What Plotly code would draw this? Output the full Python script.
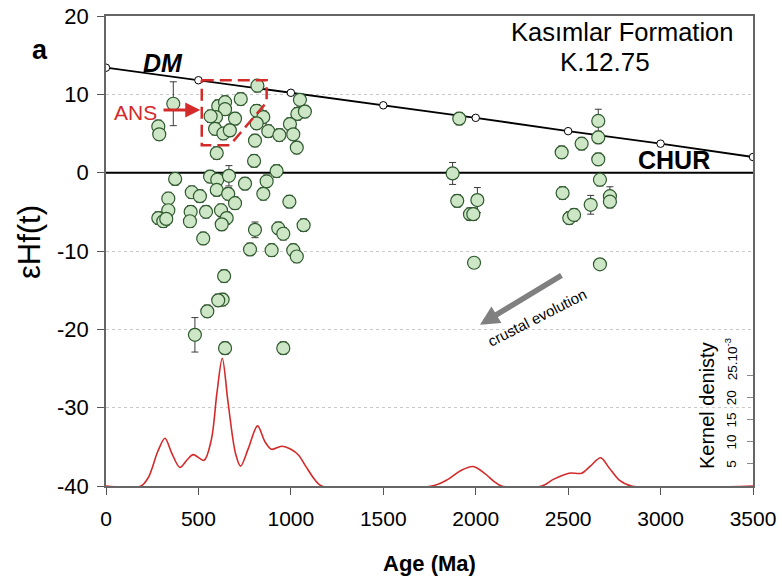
import plotly.graph_objects as go

# ---------------- data ----------------
ages = [364, 283, 288, 607, 644, 644, 729, 595, 698, 590, 635, 670, 566, 599,
        819, 815, 851, 815, 878, 938, 806, 801, 1049, 1035, 1076, 995, 1013, 1032, 923,
        374, 563, 602, 665, 599, 752, 869, 851, 992, 337, 464, 508, 661, 698,
        337, 283, 310, 326, 458, 454, 541, 622, 653, 626, 526, 806, 932, 959, 1069,
        779, 896, 1013, 1032, 639, 631, 607, 548, 481, 644, 959,
        1911, 1875, 1900, 2009, 1969, 1987, 1991,
        2663, 2663, 2573, 2465, 2663, 2672, 2470, 2622, 2726, 2726, 2506, 2532, 2672]
ehf = [8.8, 5.9, 4.9, 8.5, 9.0, 8.1, 9.4, 7.1, 6.9, 5.6, 5.0, 5.4, 7.2, 2.5,
       11.1, 7.9, 7.1, 6.3, 5.3, 4.8, 4.1, 1.5, 9.3, 7.5, 7.8, 6.2, 4.9, 3.2, 0.2,
       -0.8, -0.5, -0.9, -0.4, -2.2, -1.4, -1.1, -2.7, -3.7, -3.3, -2.5, -3.0, -2.7, -3.9,
       -4.8, -5.8, -6.2, -5.9, -5.0, -6.2, -5.0, -4.8, -5.8, -6.6, -8.4, -7.3, -7.1, -7.8, -6.7,
       -9.8, -9.9, -9.9, -10.7, -13.2, -16.2, -16.3, -17.7, -20.7, -22.4, -22.4,
       6.9, -0.1, -3.6, -3.5, -5.3, -5.3, -11.5,
       6.6, 4.5, 3.7, 2.6, 1.7, -0.9, -2.6, -4.1, -3.0, -3.7, -5.8, -5.4, -11.7]
ehf_err = [2.8, 0.8, 0.8, 0.8, 0.8, 0.8, 0.8, 0.8, 0.8, 0.8, 0.8, 0.8, 0.8, 0.8,
           0.8, 0.8, 0.8, 0.8, 0.8, 0.8, 0.8, 0.8, 0.8, 0.8, 0.8, 0.8, 0.8, 0.8, 0.8,
           0.8, 0.8, 0.8, 1.3, 0.8, 0.8, 0.8, 0.8, 0.8, 0.8, 0.8, 0.8, 0.8, 0.8,
           0.8, 0.8, 0.8, 0.8, 0.8, 0.8, 0.8, 0.8, 0.8, 0.8, 0.8, 1.0, 0.8, 0.8, 0.8,
           0.8, 0.8, 0.8, 0.8, 0.8, 0.8, 0.8, 0.8, 2.2, 0.8, 0.8,
           0.8, 1.4, 0.8, 1.6, 0.8, 0.8, 0.6,
           1.5, 0.8, 0.8, 0.8, 0.8, 0.8, 0.8, 1.2, 1.2, 0.8, 0.8, 0.8, 0.6]

dm_age = [0, 500, 1000, 1500, 2000, 2500, 3000, 3500]
dm_ehf = [13.4, 11.8, 10.2, 8.6, 7.0, 5.3, 3.7, 2.0]
chur_age = [0, 3500]
chur_ehf = [0, 0]

kde_age = [0, 189, 230, 280, 319, 355, 400, 440, 472, 530, 570, 600, 629, 660, 700, 728,
           770, 820, 860, 896, 950, 1000, 1041, 1080, 1130, 1167,
           1762, 1850, 1920, 1986, 2050, 2100, 2140,
           2357, 2420, 2505, 2573, 2620, 2676, 2720, 2780, 2843, 3500]
kde_val = [0, 0, 2.0, 7.8, 10.8, 7.5, 4.2, 6.0, 7.1, 5.8, 10.5, 21.0, 28.9, 19.0, 7.5, 4.5,
           8.5, 13.6, 10.0, 8.3, 9.0, 8.3, 7.0, 4.5, 1.4, 0,
           0, 1.5, 3.5, 4.4, 2.8, 1.0, 0,
           0, 1.5, 2.9, 2.9, 4.5, 6.4, 4.2, 1.2, 0, 0]

ans_age = [518, 869, 869, 670, 518, 518]
ans_ehf = [11.8, 11.8, 9.0, 3.5, 3.5, 11.8]

x_ticks = [0, 500, 1000, 1500, 2000, 2500, 3000, 3500]
y_ticks = [-40, -30, -20, -10, 0, 10, 20]
y_ticktext = ["-40", "-30", "-20", "-10", "0", "10", "20"]
kde_ticks = [5, 10, 15, 20, 25]
kde_ticktext = ["5", "10", "15", "20", "25.10<sup>-3</sup>"]

# ---------------- figure ----------------
SANS = "Liberation Sans, Arial, sans-serif"
RED = "#d42a2a"

fig = go.Figure()

fig.add_trace(go.Scatter(x=chur_age, y=chur_ehf, mode="lines",
                         line=dict(color="black", width=2), hoverinfo="skip"))
fig.add_trace(go.Scatter(x=dm_age, y=dm_ehf, mode="lines+markers",
                         line=dict(color="black", width=1.8),
                         marker=dict(size=7.5, color="white", line=dict(color="black", width=1)),
                         hoverinfo="skip"))
fig.add_trace(go.Scatter(x=ages, y=ehf, mode="markers",
                         error_y=dict(type="data", array=ehf_err, color="#3a3a3a",
                                      thickness=1, width=3.5),
                         marker=dict(size=13, color="#cde6c6",
                                     line=dict(color="#2e5a2e", width=1.2))))
fig.add_trace(go.Scatter(x=ans_age, y=ans_ehf, mode="lines",
                         line=dict(color=RED, width=2.5, dash="12px,6px"), hoverinfo="skip"))
fig.add_trace(go.Scatter(x=kde_age, y=kde_val, mode="lines", yaxis="y2",
                         line=dict(color=RED, width=1.6, shape="spline", smoothing=0.9),
                         hoverinfo="skip"))

fig.update_layout(
    width=782, height=583,
    margin=dict(l=106, r=29, t=16, b=97, autoexpand=False),
    paper_bgcolor="white", plot_bgcolor="white",
    showlegend=False,
    font=dict(family=SANS, color="black"),
    xaxis=dict(range=[0, 3500], tickvals=x_ticks, ticks="outside", ticklen=7,
               tickcolor="#555", showline=True, linecolor="#666", linewidth=1.5,
               mirror=True, showgrid=False, zeroline=False, ticklabeloverflow="allow",
               tickfont=dict(size=21, family=SANS), ticklabelstandoff=6),
    yaxis=dict(range=[-40, 20], tickvals=y_ticks, ticktext=y_ticktext,
               ticks="outside", ticklen=7,
               tickcolor="#555", showline=True, linecolor="#666", linewidth=1.5,
               mirror=True, showgrid=True, gridcolor="#c8c8c8", griddash="dot",
               gridwidth=1, zeroline=False,
               tickfont=dict(size=22, family=SANS), ticklabelstandoff=4),
    yaxis2=dict(overlaying="y", side="right", range=[0, 106.3],
                tickvals=kde_ticks, ticks="inside", ticklen=6,
                tickcolor="#888", showticklabels=False,
                showgrid=False, showline=False, zeroline=False),
)

ann = [
    dict(text="<b>a</b>", xref="paper", yref="paper", x=-0.102, y=0.928,
         xanchor="center", yanchor="middle", font=dict(size=27, family=SANS)),
    dict(text="<b><i>DM</i></b>", x=308, y=14.0, font=dict(size=25, family=SANS)),
    dict(text="<b>CHUR</b>", x=3073, y=1.6, font=dict(size=25, family=SANS)),
    dict(text="Kasımlar Formation", x=2791, y=17.9, font=dict(size=25.5, family=SANS)),
    dict(text="K.12.75", x=2699, y=14.1, font=dict(size=26, family=SANS)),
    dict(text="ANS", x=157, y=7.7, font=dict(size=21, family=SANS, color=RED)),
    dict(text="", x=510, y=8.0, ax=303, ay=8.0, axref="x", ayref="y",
         showarrow=True, arrowhead=2, arrowsize=1, arrowwidth=3, arrowcolor=RED),
    dict(text="", x=2023, y=-19.4, ax=2472, ay=-13.0, axref="x", ayref="y",
         showarrow=True, arrowhead=2, arrowsize=0.7, arrowwidth=5.5, arrowcolor="#808080"),
    dict(text="crustal evolution", x=2331, y=-18.5, textangle=-27,
         font=dict(size=15, family=SANS)),
    dict(text="Kernel denisty", x=3251, y=18.3, yref="y2", textangle=-90,
         font=dict(size=20, family=SANS)),
    dict(text="εHf(t)", xref="paper", yref="paper", x=-0.119, y=0.519,
         xanchor="center", yanchor="middle", textangle=-90, font=dict(size=31, family=SANS)),
    dict(text="<b>Age (Ma)</b>", xref="paper", yref="paper", x=0.5, y=-0.164,
         xanchor="center", yanchor="middle", font=dict(size=22, family=SANS)),
]
# kernel density tick labels (rotated, drawn inside the frame)
for v, t in zip(kde_ticks, kde_ticktext):
    ann.append(dict(text=t, x=3385, y=v, yref="y2", textangle=-90,
                    yanchor="bottom" if "sup" in t else "middle",
                    yshift=-7 if "sup" in t else 0,
                    font=dict(size=13.5, family=SANS)))
for a in ann:
    a.setdefault("showarrow", False)
    a.setdefault("xref", "x")
    a.setdefault("yref", "y")
fig.update_layout(annotations=ann)

fig.write_html("out.html")
